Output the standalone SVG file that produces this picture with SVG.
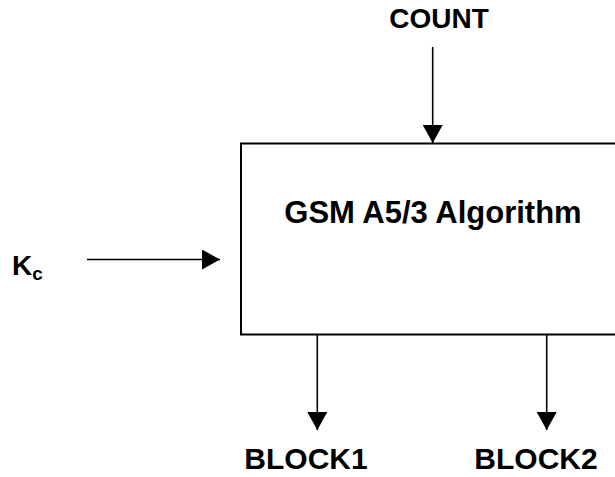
<svg xmlns="http://www.w3.org/2000/svg" width="615" height="477" viewBox="0 0 615 477">
<style>
.t{font-family:"Liberation Sans",Arial,sans-serif;font-weight:bold;fill:#000}
.c{stroke:#000;stroke-width:1.6;fill:none}
</style>
<defs>
<marker id="ah" markerUnits="userSpaceOnUse" markerWidth="18" markerHeight="20" refX="18" refY="10" orient="auto" viewBox="0 0 18 20">
<path d="M0,0 L18,10 L0,20 z" fill="#000"/>
</marker>
</defs>
<rect width="615" height="477" fill="#fff"/>
<g id="algorithm">
<rect x="241" y="143.5" width="380" height="191" fill="#fff" stroke="#000" stroke-width="2"/>
<text class="t" x="433" y="223" font-size="31" text-anchor="middle">GSM A5/3 Algorithm</text>
</g>
<g id="count"><text class="t" x="439" y="28" font-size="28" text-anchor="middle">COUNT</text></g>
<g id="kc"><text class="t" x="12" y="275" font-size="28">K<tspan font-size="19" dy="5">c</tspan></text></g>
<g id="block1"><text class="t" x="306" y="469" font-size="30" text-anchor="middle">BLOCK1</text></g>
<g id="block2"><text class="t" x="536" y="469" font-size="30" text-anchor="middle">BLOCK2</text></g>
<g id="connectors">
<line class="c" x1="432.7" y1="47" x2="432.7" y2="143" marker-end="url(#ah)"/>
<line class="c" x1="87" y1="259.5" x2="220" y2="259.5" marker-end="url(#ah)"/>
<line class="c" x1="317.3" y1="335" x2="317.3" y2="430" marker-end="url(#ah)"/>
<line class="c" x1="546.7" y1="335" x2="546.7" y2="430" marker-end="url(#ah)"/>
</g>
</svg>
